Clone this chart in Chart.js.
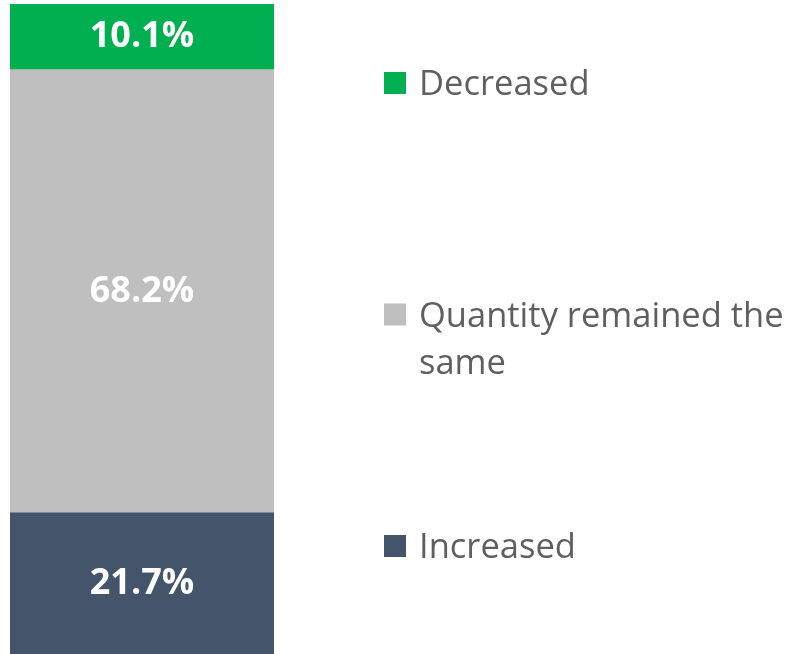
<!DOCTYPE html>
<html>
<head>
<meta charset="utf-8">
<script src="https://cdn.jsdelivr.net/npm/chart.js@4"></script>
<style>
  html, body { margin: 0; padding: 0; background: #fff; }
  #wrap { width: 792px; height: 654px; }
</style>
</head>
<body>
<div id="wrap"><canvas id="share_chart"></canvas></div>
<script>
// series, bottom to top
const seriesNames = ['Increased', ['Quantity remained the', 'same'], 'Decreased'];
const seriesValues = [21.7, 68.2, 10.1];
const seriesColors = ['#44546A', '#BFBFBF', '#00B050'];
const category = [''];

const ctx = document.getElementById('share_chart');

// white % labels in the middle of each segment
const segmentLabels = {
  id: 'segmentLabels',
  afterDatasetsDraw(chart) {
    const c = chart.ctx;
    c.save();
    c.fillStyle = '#fff';
    c.font = 'bold 36px "Open Sans"';
    c.textAlign = 'center';
    c.textBaseline = 'middle';
    chart.data.datasets.forEach((ds, i) => {
      chart.getDatasetMeta(i).data.forEach((bar, n) => {
        const y = (bar.y + bar.base) / 2;
        c.fillText(ds.data[n].toFixed(1) + '%', bar.x, y);
      });
    });
    c.restore();
  }
};

// legend on the right, top item first, spread evenly like the excel one
const sideLegend = {
  id: 'sideLegend',
  afterDraw(chart) {
    const c = chart.ctx;
    const area = chart.chartArea;
    const boxX = 384, box = 22, textX = 419, lineH = 47;
    const first = area.top + 79, step = 231.5;
    c.save();
    c.font = '34.5px "Open Sans"';
    c.textAlign = 'left';
    c.textBaseline = 'alphabetic';
    const order = chart.data.datasets.map((d, i) => i).reverse();
    order.forEach((i, k) => {
      const ds = chart.data.datasets[i];
      const cy = first + k * step;
      c.fillStyle = ds.backgroundColor;
      c.fillRect(boxX, cy - box / 2, box, box);
      c.fillStyle = '#5f5f5f';
      const lines = Array.isArray(ds.label) ? ds.label : [ds.label];
      lines.forEach((t, j) => c.fillText(t, textX, cy + 12 + j * lineH));
    });
    c.restore();
  }
};

new Chart(ctx, {
  type: 'bar',
  data: {
    labels: category,
    datasets: seriesValues.map((v, i) => ({
      label: seriesNames[i],
      data: [v],
      backgroundColor: seriesColors[i],
      borderWidth: 0,
      barPercentage: 1,
      categoryPercentage: 1
    }))
  },
  options: {
    responsive: true,
    maintainAspectRatio: false,
    animation: false,
    layout: {
      padding: { left: 10, top: 4, bottom: 0, right: 518 }
    },
    plugins: {
      legend: { display: false },
      tooltip: { enabled: false },
      title: { display: false }
    },
    scales: {
      x: { stacked: true, display: false },
      y: { stacked: true, display: false, min: 0, max: 100 }
    }
  },
  plugins: [segmentLabels, sideLegend]
});
</script>
</body>
</html>
